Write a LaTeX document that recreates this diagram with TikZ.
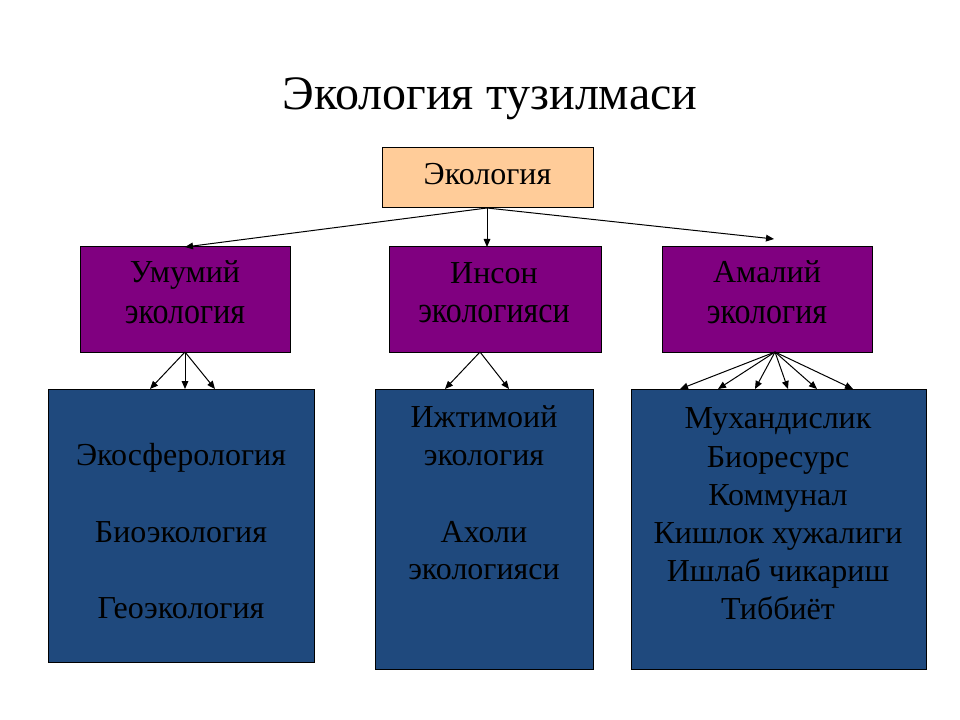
\documentclass[tikz,border=0pt]{standalone}
\usepackage{fontspec}
\setmainfont{Liberation Serif}
\usepackage{graphicx}
\usetikzlibrary{arrows.meta}
\definecolor{peach}{RGB}{255,204,153}
\definecolor{plum}{RGB}{128,0,128}
\definecolor{navyblue}{RGB}{31,73,125}
\begin{document}
\begin{tikzpicture}[x=0.75pt,y=-0.75pt,
  box/.style={draw=black,line width=0.75pt,inner sep=0,outer sep=0},
  txt/.style={font=\fontsize{24}{28.8}\selectfont,anchor=base,inner sep=0},
  ttl/.style={font=\fontsize{36}{43}\selectfont,anchor=base,inner sep=0},
  arr/.style={-{Triangle[length=6pt,width=5pt]},line width=0.75pt}]
\fill[white] (0,0) rectangle (960,720);
\useasboundingbox (0,0) rectangle (960,720);
% title
\node[ttl] (title) at (490,110) {Экология тузилмаси};
% boxes
\node[box,fill=peach,minimum width=158.25pt,minimum height=45pt] (eco) at (487.5,178) {};
\node[box,fill=plum,minimum width=157.5pt,minimum height=78.75pt] (umum) at (185,299.5) {};
\node[box,fill=plum,minimum width=159pt,minimum height=78.75pt] (inson) at (495,299.5) {};
\node[box,fill=plum,minimum width=157.5pt,minimum height=78.75pt] (amal) at (767,299.5) {};
\node[box,fill=navyblue,minimum width=199.5pt,minimum height=204.75pt] (bl) at (181,525.5) {};
\node[box,fill=navyblue,minimum width=163.5pt,minimum height=210pt] (bm) at (484,529) {};
\node[box,fill=navyblue,minimum width=221.25pt,minimum height=210pt] (br) at (778.5,529) {};
% texts
\node[txt] (t0) at (487.5,185) {Экология};
\node[txt] (t1a) at (185,283) {Умумий};
\node[txt] (t1b) at (185,323) {\scalebox{1}[1.15]{экология}};
\node[txt] (t2a) at (494,284) {Инсон};
\node[txt] (t2b) at (494,322) {\scalebox{1}[1.15]{экологияси}};
\node[txt] (t3a) at (767,283) {Амалий};
\node[txt] (t3b) at (767,323) {\scalebox{1}[1.15]{экология}};
\node[txt] (l1) at (181,465) {Экосферология};
\node[txt] (l2) at (181,542) {Биоэкология};
\node[txt] (l3) at (181,618) {Геоэкология};
\node[txt] (m1) at (484,427) {Ижтимоий};
\node[txt] (m2) at (484,465) {экология};
\node[txt] (m3) at (484,542) {Ахоли};
\node[txt] (m4) at (484,579) {экологияси};
\node[txt] (r1) at (778,428) {Мухандислик};
\node[txt] (r2) at (778,467) {Биоресурс};
\node[txt] (r3) at (778,505) {Коммунал};
\node[txt] (r4) at (778,543) {Кишлок хужалиги};
\node[txt] (r5) at (778,581) {Ишлаб чикариш};
\node[txt] (r6) at (778,619) {Тиббиёт};
% connector points
\coordinate (ecoS) at (487,208);
\coordinate (insonIn) at (487,247);
\coordinate (amalIn) at (774,239);
\coordinate (umS) at (185,352);
\coordinate (inS) at (480,352);
\coordinate (amS) at (775,352);
\coordinate (bl1) at (150,389);
\coordinate (bl2) at (185,389);
\coordinate (bl3) at (215,389);
\coordinate (bm1) at (445,389);
\coordinate (bm2) at (509,389);
\coordinate (br1) at (680,389);
\coordinate (br2) at (718,389);
\coordinate (br3) at (755,389);
\coordinate (br4) at (788,389);
\coordinate (br5) at (817,389);
\coordinate (br6) at (853,389);
% arrows
\draw[arr] (ecoS) -- (umum.north);
\draw[arr] (ecoS) -- (insonIn);
\draw[arr] (ecoS) -- (amalIn);
\foreach \p in {bl1,bl2,bl3} \draw[arr] (umS) -- (\p);
\foreach \p in {bm1,bm2} \draw[arr] (inS) -- (\p);
\foreach \p in {br1,br2,br3,br4,br5,br6} \draw[arr] (amS) -- (\p);
\end{tikzpicture}
\end{document}
